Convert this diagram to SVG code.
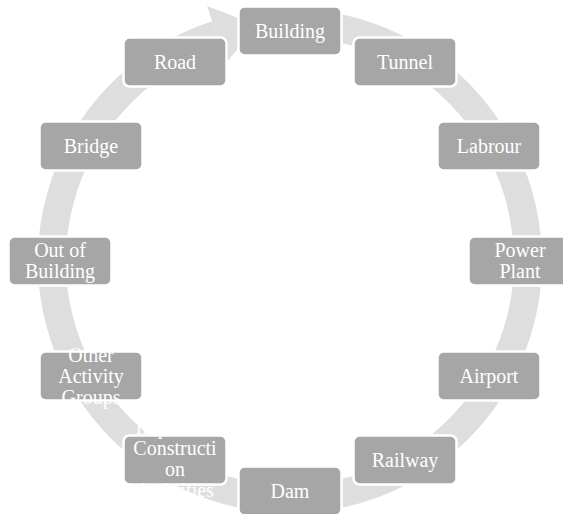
<svg xmlns="http://www.w3.org/2000/svg" width="563" height="514" viewBox="0 0 563 514">
<style>
.box{fill:#a6a6a6;stroke:#ffffff;stroke-width:2.5}
.lbl{font-family:"Liberation Serif","Times New Roman",serif;font-size:20px;fill:#ffffff;text-anchor:middle}
.ring{fill:none;stroke:#dedede;stroke-width:28}
.head{fill:#dedede}
</style>
<rect width="563" height="514" fill="#ffffff"/>
<g id="connectors">
<path class="ring" d="M290,23 A238,238 0 1,1 216.5,34.6"/>
<polygon class="head" points="207.2,6.1 257,25.3 225.7,63.2"/>
</g>
<g id="building"><rect class="box" x="238.5" y="6.5" width="103" height="49" rx="6"/><text class="lbl" x="290" y="38">Building</text></g>
<g id="tunnel"><rect class="box" x="353.5" y="37.5" width="103" height="49" rx="6"/><text class="lbl" x="405" y="69">Tunnel</text></g>
<g id="labrour"><rect class="box" x="437.5" y="121.5" width="103" height="49" rx="6"/><text class="lbl" x="489" y="153">Labrour</text></g>
<g id="power-plant"><rect class="box" x="468.5" y="236.5" width="103" height="49" rx="6"/><text class="lbl" x="520" y="257">Power</text><text class="lbl" x="520" y="278">Plant</text></g>
<g id="airport"><rect class="box" x="437.5" y="351.5" width="103" height="49" rx="6"/><text class="lbl" x="489" y="383">Airport</text></g>
<g id="railway"><rect class="box" x="353.5" y="435.5" width="103" height="49" rx="6"/><text class="lbl" x="405" y="467">Railway</text></g>
<g id="dam"><rect class="box" x="238.5" y="466.5" width="103" height="49" rx="6"/><text class="lbl" x="290" y="498">Dam</text></g>
<g id="construction"><rect class="box" x="123.5" y="435.5" width="103" height="49" rx="6"/><text class="lbl" x="175" y="434">Important</text><text class="lbl" x="175" y="455">Constructi</text><text class="lbl" x="175" y="476">on</text><text class="lbl" x="175" y="497">Activities</text></g>
<g id="other-activity-groups"><rect class="box" x="39.5" y="351.5" width="103" height="49" rx="6"/><text class="lbl" x="91" y="362">Other</text><text class="lbl" x="91" y="383">Activity</text><text class="lbl" x="91" y="404">Groups</text></g>
<g id="out-of-building"><rect class="box" x="8.5" y="236.5" width="103" height="49" rx="6"/><text class="lbl" x="60" y="257">Out of</text><text class="lbl" x="60" y="278">Building</text></g>
<g id="bridge"><rect class="box" x="39.5" y="121.5" width="103" height="49" rx="6"/><text class="lbl" x="91" y="153">Bridge</text></g>
<g id="road"><rect class="box" x="123.5" y="37.5" width="103" height="49" rx="6"/><text class="lbl" x="175" y="69">Road</text></g>
</svg>
